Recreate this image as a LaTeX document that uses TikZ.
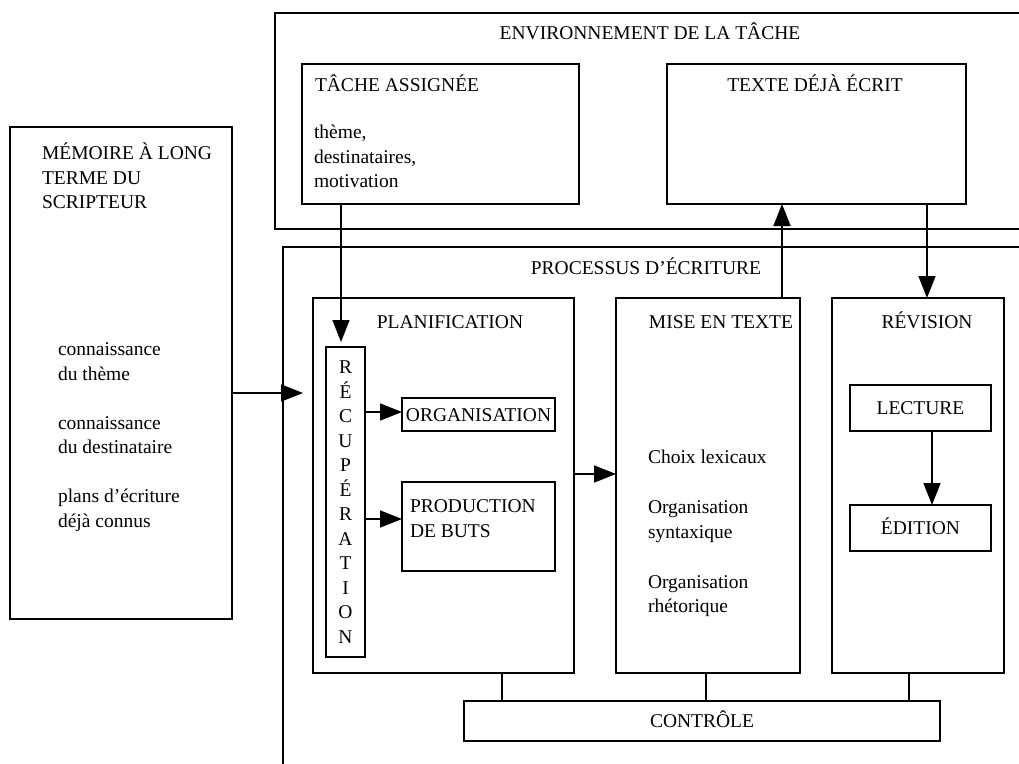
\documentclass[tikz,border=0pt]{standalone}
\usepackage{fontspec}
\setmainfont{Liberation Serif}
\usepackage{tikz}
\usetikzlibrary{arrows.meta}
\tikzset{
  noeud/.style = {inner sep=0pt, outer sep=0pt,
    font=\fontsize{19.5}{24.5}\selectfont},
  cadre/.style = {noeud, rectangle, draw=black, line width=1.6pt,
    anchor=north west},% boite, coin haut gauche
  etiq/.style = {cadre, text height=13pt, text depth=0pt},% boite avec titre centre
  titre/.style = {noeud, anchor=base},% titre centre
  titreg/.style = {noeud, anchor=base west},% titre a gauche
  liste/.style = {noeud, anchor=north west, align=left}% texte sur plusieurs lignes
}

\begin{document}
\begin{tikzpicture}[->,>={Triangle[length=22pt,width=17pt]}, x=1pt, y=-1pt,
  line width=1.6pt]
\clip (0,0) rectangle (1019,763);
% environnement de la tache
\node [cadre, minimum width=760pt, minimum height=216pt] (env) at (275,13) {};
\node [titre] (t_env) at (650,39) {ENVIRONNEMENT DE LA TÂCHE};
\node [cadre, minimum width=277pt, minimum height=140pt] (tache) at (302,64) {};
\node [titreg] (t_tache) at (315,91) {TÂCHE ASSIGNÉE};
\node [liste] (l_tache) at (314,125) {thème,\\destinataires,\\motivation};
\node [cadre, minimum width=299pt, minimum height=140pt] (texte) at (667,64) {};
\node [titre] (t_texte) at (815,91) {TEXTE DÉJÀ ÉCRIT};
% memoire
\node [cadre, minimum width=222pt, minimum height=492pt] (memoire) at (10,127) {};
\node [liste] (t_memoire) at (42,143) {MÉMOIRE À LONG\\TERME DU\\SCRIPTEUR};
\node [liste] (l_memoire) at (58,343) {connaissance\\du thème\\[24.5pt]
  connaissance\\du destinataire\\[24.5pt]plans d’écriture\\déjà connus};
% processus
\node [cadre, minimum width=760pt, minimum height=530pt] (processus) at (283,247) {};
\node [titre] (t_processus) at (646,274) {PROCESSUS D’ÉCRITURE};
\node [cadre, minimum width=261pt, minimum height=375pt] (planif) at (313,298) {};
\node [titre] (t_planif) at (450,328) {PLANIFICATION};
\node [cadre, minimum width=184pt, minimum height=375pt] (mise) at (616,298) {};
\node [titre] (t_mise) at (721,328) {MISE EN TEXTE};
\node [liste] (l_mise) at (648,450) {Choix lexicaux\\[25.5pt]Organisation\\syntaxique\\[25.5pt]
  Organisation\\rhétorique};
\node [cadre, minimum width=172pt, minimum height=375pt] (revision) at (832,298) {};
\node [titre] (t_revision) at (927,328) {RÉVISION};
\node [cadre, align=center, minimum width=39pt, minimum height=310pt] (recup) at (326,347)
  {R\\É\\C\\U\\P\\É\\R\\A\\T\\I\\O\\N};
\node [etiq, minimum width=153pt, minimum height=33pt] (orga) at (402,398) {ORGANISATION};
\node [cadre, minimum width=153pt, minimum height=89pt] (prod) at (402,482) {};
\node [liste] (t_prod) at (410,500) {PRODUCTION\\DE BUTS};
\node [etiq, minimum width=141pt, minimum height=46pt] (lecture) at (850,385) {LECTURE};
\node [etiq, minimum width=141pt, minimum height=46pt] (edition) at (850,505) {ÉDITION};
\node [etiq, minimum width=476pt, minimum height=40pt] (controle) at (464,701) {CONTRÔLE};
% fleches
\coordinate (entree) at (303,393);
\draw (memoire.east |- entree) -- (entree);
\coordinate (t1) at ([xshift=-4.5pt]recup.north);
\draw [shorten >=5pt] (t1 |- tache.south) -- (t1);
\coordinate (m1) at ([xshift=-18pt]mise.north east);
\draw (m1) -- (m1 |- texte.south);
\coordinate (r1) at ([xshift=9pt]revision.north);
\draw (r1 |- texte.south) -- (r1);
\coordinate (o1) at ([yshift=2.5pt]orga.west);
\draw (recup.east |- o1) -- (o1);
\coordinate (p1) at ([yshift=7.5pt]prod.west);
\draw (recup.east |- p1) -- (p1);
\coordinate (m2) at ([yshift=11.5pt]mise.west);
\draw (planif.east |- m2) -- (m2);
\coordinate (e1) at ([xshift=11.5pt]edition.north);
\draw (e1 |- lecture.south) -- (e1);
% controle
\coordinate (c1) at ([xshift=38pt]controle.north west);
\coordinate (c2) at ([xshift=242pt]controle.north west);
\coordinate (c3) at ([xshift=445pt]controle.north west);
\draw [-] (c1) -- (c1 |- planif.south);
\draw [-] (c2) -- (c2 |- mise.south);
\draw [-] (c3) -- (c3 |- revision.south);
\end{tikzpicture}
\end{document}
